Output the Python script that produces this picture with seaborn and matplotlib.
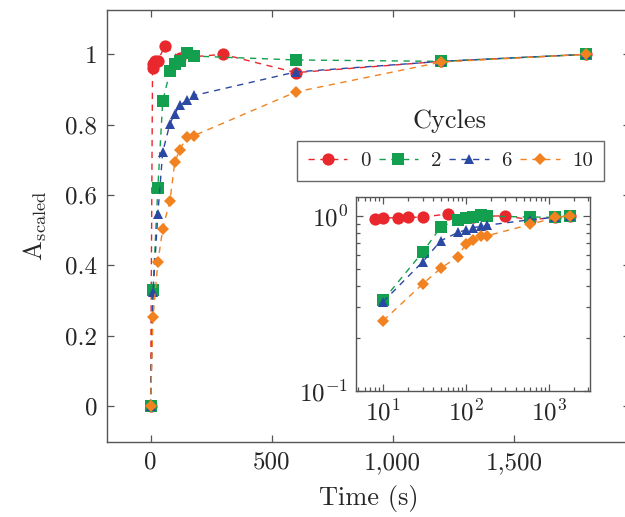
import math

import pandas as pd
import seaborn as sns
import matplotlib.pyplot as plt
from matplotlib.ticker import FixedLocator, NullFormatter, FuncFormatter

# measured values, one list per cycle count
cycles = ["0", "2", "6", "10"]

time_0 = [0, 8, 10, 15, 20, 30, 60, 120, 300, 600, 1200, 1800]
val_0 = [0, 0.96, 0.972, 0.975, 0.98, 0.982, 1.025, 0.99, 1.0, 0.948, 0.98, 1.0]

time_2 = [0, 10, 30, 50, 80, 100, 120, 150, 180, 600, 1200, 1800]
val_2 = [0, 0.33, 0.62, 0.866, 0.952, 0.972, 0.98, 1.004, 0.995, 0.984, 0.98, 1.0]

time_6 = [0, 10, 30, 50, 80, 100, 120, 150, 180, 600, 1200, 1800]
val_6 = [0, 0.323, 0.546, 0.722, 0.803, 0.831, 0.855, 0.869, 0.883, 0.95, 0.98, 1.0]

time_10 = [0, 10, 30, 50, 80, 100, 120, 150, 180, 600, 1200, 1800]
val_10 = [0, 0.252, 0.408, 0.503, 0.584, 0.693, 0.729, 0.764, 0.769, 0.893, 0.978, 1.0]

xticks_main = [0, 500, 1000, 1500]
yticks_main = [0, 0.2, 0.4, 0.6, 0.8, 1]
ytick_labels_main = ["0", "0.2", "0.4", "0.6", "0.8", "1"]

colors = {"0": "#e8282d", "2": "#12a04e", "6": "#2b48a2", "10": "#f2821f"}
markers = {"0": "o", "2": "s", "6": "^", "10": "D"}
msizes = {"0": 8.8, "2": 8.2, "6": 7.2, "10": 6.6}

frames = []
for c, t, v in zip(cycles, [time_0, time_2, time_6, time_10], [val_0, val_2, val_6, val_10]):
    frames.append(pd.DataFrame({"Time": t, "A": v, "Cycles": c}))
df = pd.concat(frames, ignore_index=True)

sns.set_style("ticks")
plt.rcParams["font.family"] = ["cmr10", "DejaVu Serif"]
plt.rcParams["mathtext.fontset"] = "cm"
plt.rcParams["axes.formatter.use_mathtext"] = True
plt.rcParams["axes.unicode_minus"] = False

spine_col = "#555555"
tick_kw = dict(direction="in", color=spine_col, width=0.9)


def draw(ax, data):
    for c in cycles:
        sub = data[data["Cycles"] == c]
        sns.lineplot(
            data=sub, x="Time", y="A", ax=ax,
            color=colors[c], marker=markers[c], markersize=msizes[c],
            markeredgewidth=0, linewidth=1.0, linestyle=(0, (4.5, 4)),
            estimator=None, sort=False, legend=False,
        )
    for s in ax.spines.values():
        s.set_color(spine_col)
        s.set_linewidth(1.0)
    ax.set_xlabel("")
    ax.set_ylabel("")


fig = plt.figure(figsize=(6.25, 5.17), dpi=100)
ax = fig.add_axes([107 / 625, 75 / 517, 523 / 625, 432.5 / 517])
draw(ax, df)
ax.set_xlim(-180, 1980)
ax.set_ylim(-0.1025, 1.1275)
ax.set_xticks(xticks_main)
ax.xaxis.set_major_formatter(FuncFormatter(lambda x, p: f"{int(x):,}"))
ax.set_yticks(yticks_main)
ax.set_yticklabels(ytick_labels_main)
ax.tick_params(axis="both", which="major", length=5, labelsize=18, top=True, right=True, pad=7, **tick_kw)
ax.set_xlabel("Time (s)", fontsize=19, labelpad=8)
ax.set_ylabel(r"$\mathrm{A}_{\mathrm{scaled}}$", fontsize=19, labelpad=12)

handles = ax.get_lines()[:len(cycles)]
leg = ax.legend(
    handles, cycles, ncol=4, loc="center",
    bbox_to_anchor=(450.5 / 625, 1 - 161 / 517), bbox_transform=fig.transFigure,
    fontsize=15, frameon=True, fancybox=False, handlelength=1.9,
    handletextpad=0.6, columnspacing=0.4, borderpad=0.5, borderaxespad=0,
)
leg.get_frame().set_edgecolor("#444444")
leg.get_frame().set_linewidth(1.0)
fig.text(450 / 625, 1 - 121 / 517, "Cycles", ha="center", va="center", fontsize=19)

# inset with log axes
axi = fig.add_axes([356 / 625, 126 / 517, 234 / 625, 194 / 517])
draw(axi, df[df["Time"] > 0])
axi.set_xscale("log")
axi.set_yscale("log")
axi.set_xlim(4.7, 3150)
axi.set_ylim(0.1, 1.28)
axi.xaxis.set_major_locator(FixedLocator([10, 100, 1000]))
axi.xaxis.set_major_formatter(FuncFormatter(lambda x, p: r"$10^{%d}$" % round(math.log10(x))))
axi.xaxis.set_minor_locator(FixedLocator([5, 6, 7, 8, 9, 20, 30, 40, 50, 60, 70, 80, 90,
                                          200, 300, 400, 500, 600, 700, 800, 900, 2000, 3000]))
axi.yaxis.set_major_locator(FixedLocator([0.1, 1]))
axi.yaxis.set_major_formatter(FuncFormatter(lambda y, p: r"$10^{0}$" if y > 0.5 else r"$10^{-1}$"))
axi.yaxis.set_minor_locator(FixedLocator([0.2, 0.3, 0.4, 0.5, 0.6, 0.7, 0.8, 0.9]))
axi.xaxis.set_minor_formatter(NullFormatter())
axi.yaxis.set_minor_formatter(NullFormatter())
axi.tick_params(axis="both", which="major", length=5, labelsize=18, top=True, right=True, pad=6, **tick_kw)
axi.tick_params(axis="both", which="minor", length=3, top=True, right=True, **tick_kw)

fig.savefig("out.png", dpi=100)
